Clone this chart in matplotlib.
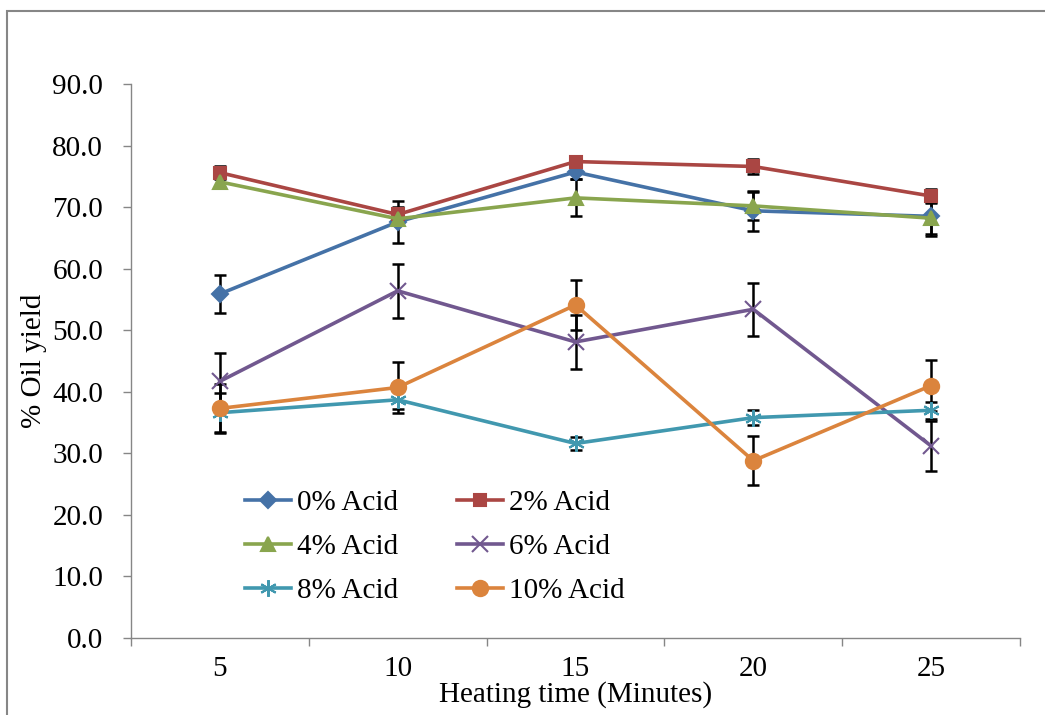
import numpy as np
import matplotlib
matplotlib.use('Agg')
import matplotlib.pyplot as plt
from matplotlib.patches import Rectangle

plt.rcParams['font.family'] = ['Liberation Serif', 'DejaVu Serif']

# 数据
times = ['5', '10', '15', '20', '25']
acid_0 = [55.9, 67.6, 75.7, 69.4, 68.5]
acid_2 = [75.6, 68.8, 77.4, 76.6, 71.8]
acid_4 = [74.1, 68.1, 71.5, 70.2, 68.2]
acid_6 = [41.7, 56.4, 48.1, 53.4, 31.2]
acid_8 = [36.6, 38.7, 31.6, 35.8, 37.0]
acid_10 = [37.3, 40.7, 54.1, 28.8, 41.0]

err_0 = [3.1, 3.4, 1.2, 3.2, 3.2]
err_2 = [1.0, 1.2, 0.8, 1.2, 1.2]
err_4 = [1.0, 1.0, 3.0, 2.3, 2.6]
err_6 = [4.6, 4.4, 4.4, 4.3, 4.1]
err_8 = [3.2, 1.5, 1.0, 1.2, 1.4]
err_10 = [4.0, 4.1, 4.1, 4.0, 4.2]

labels = ['0% Acid', '2% Acid', '4% Acid', '6% Acid', '8% Acid', '10% Acid']
series = [acid_0, acid_2, acid_4, acid_6, acid_8, acid_10]
errors = [err_0, err_2, err_4, err_6, err_8, err_10]
colors = ['#4572A7', '#AA4643', '#89A54E', '#71588F', '#4198AF', '#DB843D']
markers = ['D', 's', '^', 'x', (6, 2, 0), 'o']
msizes = [8, 9, 10, 11, 12, 11]

fig = plt.figure(figsize=(10.45, 7.15), dpi=100)
ax = fig.add_axes([131 / 1045, 1 - 638 / 715, 889 / 1045, 554 / 715])

x = np.arange(len(times))

# 误差棒
for y, e in zip(series, errors):
    ax.errorbar(x, y, yerr=e, fmt='none', ecolor='black', elinewidth=1.8,
                capsize=4, capthick=1.8, zorder=2)

# 折线
handles = []
for y, lab, c, m, ms in zip(series, labels, colors, markers, msizes):
    h, = ax.plot(x, y, color=c, marker=m, markersize=ms, lw=2.6, label=lab,
                 markeredgecolor=c, markeredgewidth=1.5, zorder=3)
    handles.append(h)

ax.set_xlim(-0.5, len(times) - 0.5)
ax.set_ylim(0, 90)
ax.set_yticks(np.arange(0, 91, 10))
ax.set_yticklabels([f'{v:.1f}' for v in np.arange(0, 91, 10)])
ax.set_xticks(x)
ax.set_xticklabels(times)
ax.set_xticks(np.arange(-0.5, len(times), 1), minor=True)
ax.tick_params(axis='x', which='major', length=0, pad=13, labelsize=21)
ax.tick_params(axis='x', which='minor', length=6, color='#868686', width=1)
ax.tick_params(axis='y', length=6, color='#868686', width=1, labelsize=21, pad=14)

for s in ['top', 'right']:
    ax.spines[s].set_visible(False)
for s in ['left', 'bottom']:
    ax.spines[s].set_color('#868686')
    ax.spines[s].set_linewidth(1)

ax.set_xlabel('Heating time (Minutes)', fontsize=21, labelpad=-1)
ax.set_ylabel('% Oil yield', fontsize=21, labelpad=4)

# 图例按行排列
order = [0, 2, 4, 1, 3, 5]
ax.legend([handles[i] for i in order], [labels[i] for i in order], ncol=2,
          loc='upper left', bbox_to_anchor=(0.128, 0.268), frameon=False,
          fontsize=21, handlelength=1.6, handletextpad=0.2, labelspacing=0.6,
          columnspacing=2.0, borderpad=0, borderaxespad=0)

# 外边框
fig.patches.append(Rectangle((7 / 1045, -0.1), 1.2, 1.1 - 11 / 715, transform=fig.transFigure,
                             fill=False, edgecolor='#868686', lw=1.5))

fig.savefig('out.png', dpi=100)
